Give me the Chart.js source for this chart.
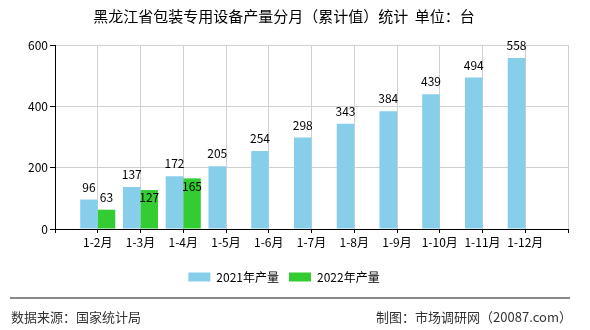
<!DOCTYPE html>
<html>
<head>
<meta charset="utf-8">
<script src="https://cdn.jsdelivr.net/npm/chart.js@4/dist/chart.umd.min.js"></script>
<style>
    body { margin: 0; background: #fff; }
    #wrap { position: relative; width: 590px; height: 330px; font-family: "Noto Sans CJK SC", sans-serif; }
    #chart { position: absolute; left: 0; top: 0; }
    #rule { position: absolute; left: 10px; top: 297px; width: 560px; border-top: 2px solid #888; }
    .foot { position: absolute; top: 308px; font-size: 13px; color: #333; line-height: 18px; white-space: nowrap; }
</style>
</head>
<body>
<div id="wrap">
    <canvas id="chart" width="590" height="330"></canvas>
    <div id="rule"></div>
    <div class="foot" style="left:11px">数据来源：国家统计局</div>
    <div class="foot" style="right:18px">制图：市场调研网（20087.com）</div>
</div>
<script>
// 数据
const months = ["1-2月", "1-3月", "1-4月", "1-5月", "1-6月", "1-7月", "1-8月", "1-9月", "1-10月", "1-11月", "1-12月"];
const output2021 = [96, 137, 172, 205, 254, 298, 343, 384, 439, 494, 558];
const output2022 = [63, 127, 165];
const yTicks = [0, 200, 400, 600];

const FONT = '"Noto Sans CJK SC", sans-serif';

// 前后各留一个空位，让柱子落在网格线上
const labels = [""].concat(months, [""]);
const pad = arr => [null].concat(months.map((m, i) => arr[i] ?? null), [null]);

// 柱顶数字，重叠时往下挪
const barLabels = {
    id: "barLabels",
    afterDatasetsDraw(chart) {
        const ctx = chart.ctx;
        ctx.save();
        ctx.font = "12px " + FONT;
        ctx.fillStyle = "#000";
        ctx.textAlign = "center";
        ctx.textBaseline = "alphabetic";
        const placed = [];
        chart.data.datasets.forEach((ds, di) => {
            const meta = chart.getDatasetMeta(di);
            meta.data.forEach((bar, i) => {
                const v = ds.data[i];
                if (v === null || v === undefined) return;
                const text = String(v);
                const w = ctx.measureText(text).width;
                let y = bar.y - 8;
                placed.forEach(p => {
                    const overlapX = Math.abs(p.x - bar.x) < (p.w + w) / 2;
                    const overlapY = Math.abs(p.y - y) < 12;
                    if (overlapX && overlapY) y = p.y + 23;
                });
                ctx.fillText(text, bar.x, y);
                placed.push({ x: bar.x, y: y, w: w });
            });
        });
        ctx.restore();
    }
};

new Chart(document.getElementById("chart"), {
    type: "bar",
    data: {
        labels: labels,
        datasets: [
            { label: "2021年产量", data: pad(output2021), backgroundColor: "#87ceeb" },
            { label: "2022年产量", data: pad(output2022), backgroundColor: "#33cc33" }
        ]
    },
    options: {
        responsive: false,
        animation: false,
        categoryPercentage: 0.82,
        barPercentage: 1,
        layout: { padding: { left: 0, right: 22, top: 0, bottom: 37 } },
        plugins: {
            title: {
                display: true,
                text: "黑龙江省包装专用设备产量分月（累计值）统计  单位：台",
                color: "#000",
                font: { family: FONT, size: 15, weight: "normal" },
                padding: { top: 7, bottom: 20 }
            },
            legend: {
                position: "bottom",
                labels: {
                    boxWidth: 22,
                    boxHeight: 9,
                    padding: 10,
                    color: "#000",
                    font: { family: FONT, size: 12 }
                }
            },
            tooltip: { enabled: false }
        },
        scales: {
            x: {
                offset: false,
                grid: { color: "#d0d0d0", tickColor: "#000", tickLength: 4, offset: false },
                border: { color: "#000" },
                ticks: { color: "#000", font: { family: FONT, size: 12 }, maxRotation: 0, autoSkip: false, padding: 2 },
                afterFit(scale) { scale.height = 32; }
            },
            y: {
                min: 0,
                max: 600,
                afterBuildTicks(scale) { scale.ticks = yTicks.map(v => ({ value: v })); },
                grid: { color: "#d0d0d0", tickColor: "#000", tickLength: 5 },
                border: { color: "#000" },
                ticks: { color: "#000", font: { family: FONT, size: 12 }, padding: 2 },
                afterFit(scale) { scale.width = 55; }
            }
        }
    },
    plugins: [barLabels]
});
</script>
</body>
</html>
